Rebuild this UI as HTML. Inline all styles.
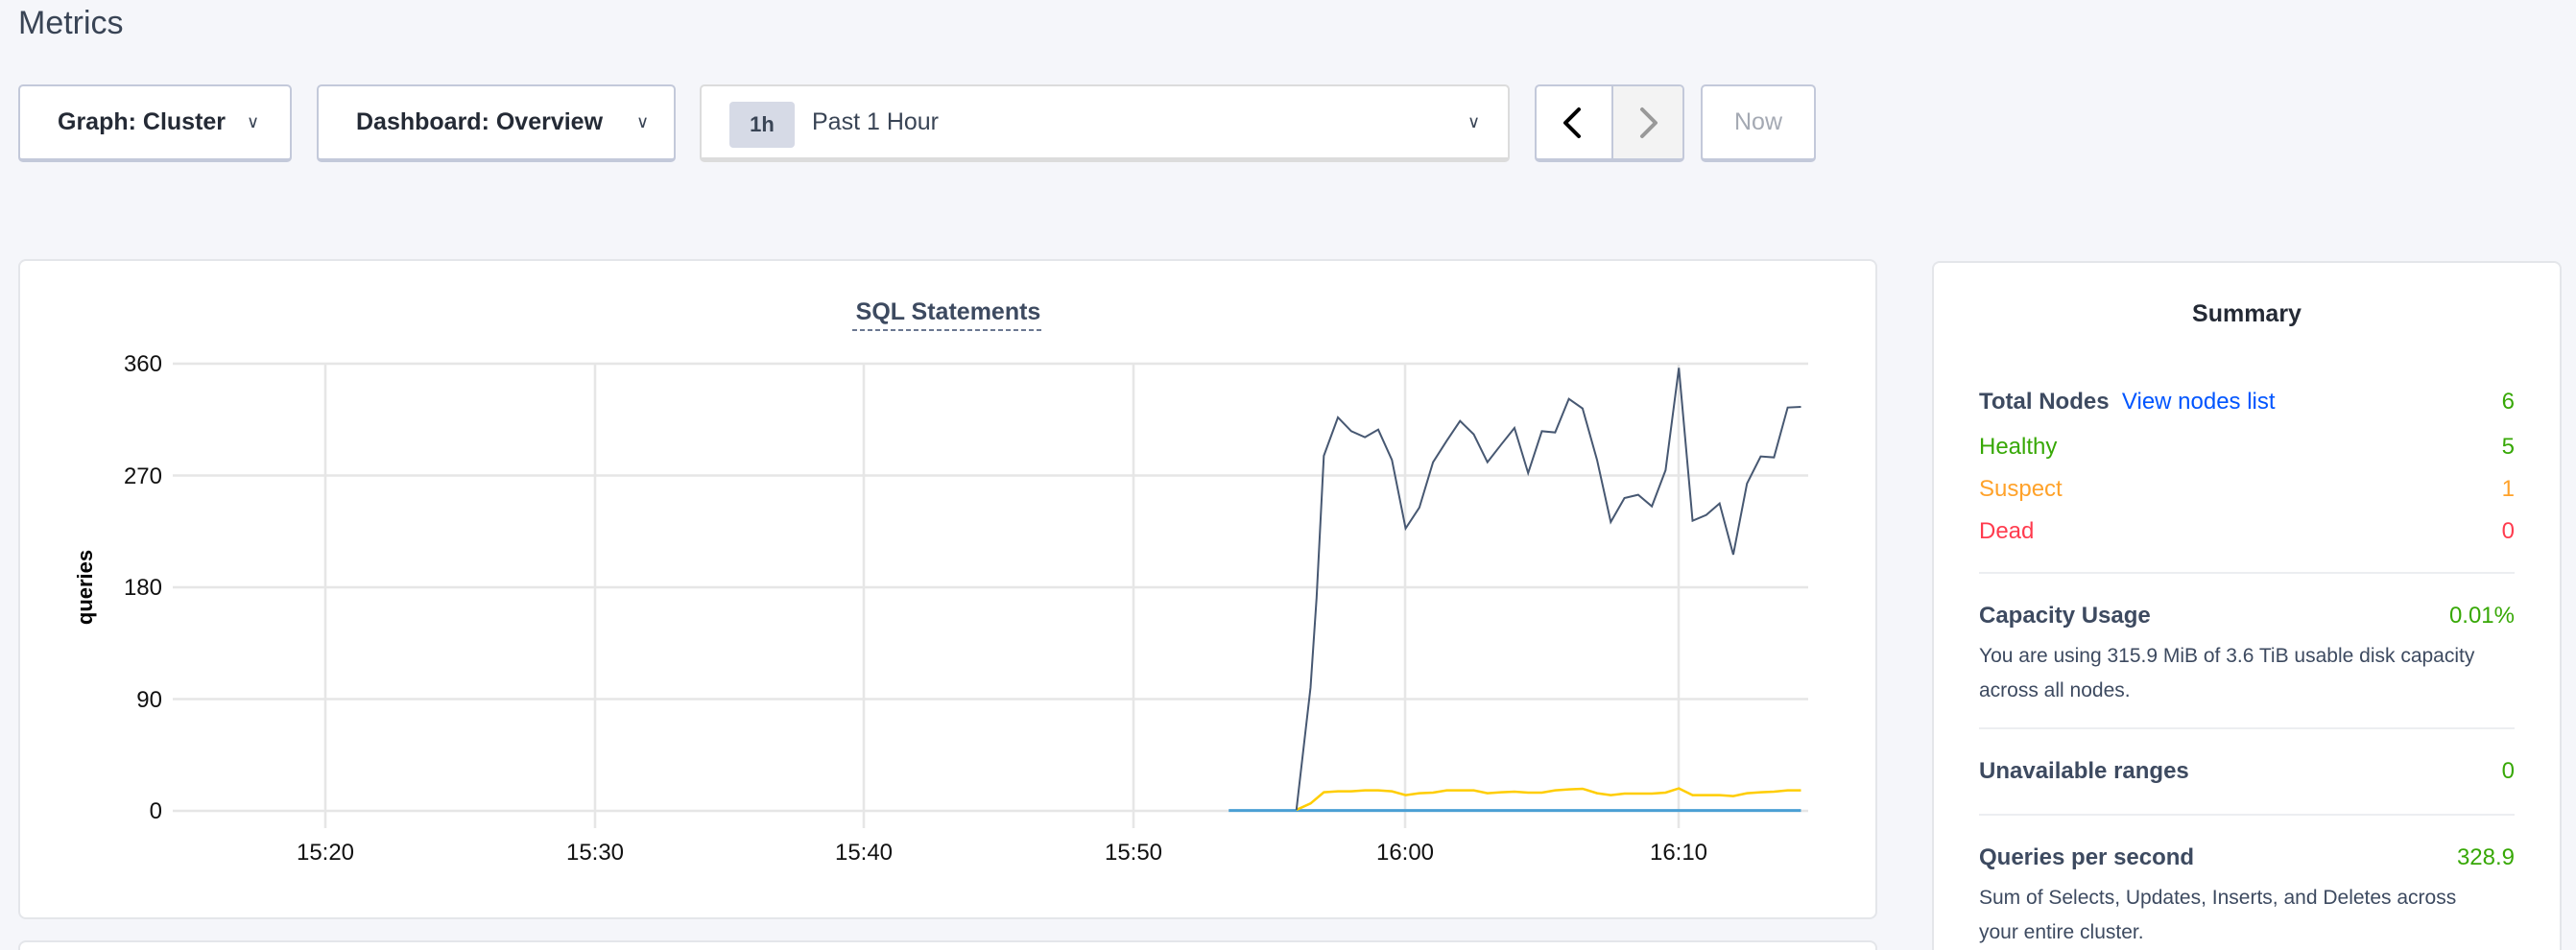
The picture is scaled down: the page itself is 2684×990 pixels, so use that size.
<!DOCTYPE html>
<html style="width:2684px;height:990px;overflow:hidden"><head><meta charset="utf-8"><style>
*{box-sizing:border-box;margin:0;padding:0}
body{width:2684px;height:990px;background:#f5f6fa;font-family:"Liberation Sans",sans-serif;position:relative;overflow:hidden;color:#394455}
.a{position:absolute}
.btn{position:absolute;top:88px;height:81px;background:#fff;border:2px solid #c3c9da;border-bottom-width:4px;border-radius:5px;font-size:25px;font-weight:bold;color:#242a35;display:flex;align-items:center}
.chev{position:absolute;font-size:18px;color:#394455;font-weight:normal}
.card{position:absolute;background:#fff;border:2px solid #e4e6ea;border-radius:8px}
.row{position:absolute;left:2062px;width:558px;font-size:24px;display:flex;justify-content:space-between}
.b{font-weight:bold;color:#3d4a60}
.desc{position:absolute;left:2062px;font-size:21px;line-height:36px;color:#3d4a60}
.hr{position:absolute;left:2062px;width:558px;height:2px;background:#eceef1}
</style></head><body>
<div class="a" style="left:19px;top:5px;font-size:34px;color:#394455">Metrics</div>

<div class="btn" style="left:19px;width:285px"><span style="margin-left:39px">Graph: Cluster</span><span class="chev" style="left:236px">&#8744;</span></div>
<div class="btn" style="left:330px;width:374px"><span style="margin-left:39px">Dashboard: Overview</span><span class="chev" style="left:331px">&#8744;</span></div>
<div class="btn" style="left:729px;width:844px;border-color:#dcdcdc;border-bottom-width:5px;font-weight:normal">
 <div class="a" style="left:29px;top:16px;width:68px;height:48px;background:#d6dae6;border-radius:4px;font-size:22px;font-weight:bold;display:flex;align-items:center;justify-content:center;color:#394455">1h</div>
 <span class="a" style="left:115px;top:23px;color:#394455">Past 1 Hour</span><span class="chev" style="left:798px">&#8744;</span></div>
<div class="btn" style="left:1599px;width:156px;overflow:hidden">
 <div class="a" style="left:78px;top:0;width:78px;height:100%;background:#f3f3f3;border-left:2px solid #c3c9da"></div>
 <svg class="a" style="left:0;top:0" width="156" height="76">
  <polyline points="44,24 30,38 44,52" fill="none" stroke="#000" stroke-width="4" stroke-linecap="round" stroke-linejoin="round"/>
  <polyline points="110,24 124,38 110,52" fill="none" stroke="#999" stroke-width="4" stroke-linecap="round" stroke-linejoin="round"/>
 </svg></div>
<div class="btn" style="left:1772px;width:120px;justify-content:center;color:#a4a9b3;font-weight:normal">Now</div>

<div class="card" style="left:19px;top:270px;width:1937px;height:688px"></div>
<div class="card" style="left:19px;top:980px;width:1937px;height:10px;border-bottom:none;border-radius:8px 8px 0 0"></div>

<svg class="a" style="left:0;top:0" width="2684" height="990">
 <text x="988" y="333" text-anchor="middle" font-size="25" font-weight="bold" fill="#3d4a60" font-family="Liberation Sans">SQL Statements</text>
 <line x1="888" y1="344" x2="1088" y2="344" stroke="#6b7891" stroke-width="2" stroke-dasharray="5,3"/>
 <g stroke="#e6e6e6" stroke-width="2.5">
  <line x1="180" y1="379" x2="1884" y2="379"/><line x1="180" y1="495.5" x2="1884" y2="495.5"/>
  <line x1="180" y1="612" x2="1884" y2="612"/><line x1="180" y1="728.5" x2="1884" y2="728.5"/>
  <line x1="180" y1="845" x2="1884" y2="845"/>
  <line x1="339" y1="379" x2="339" y2="863"/><line x1="620" y1="379" x2="620" y2="863"/>
  <line x1="900" y1="379" x2="900" y2="863"/><line x1="1181" y1="379" x2="1181" y2="863"/>
  <line x1="1464" y1="379" x2="1464" y2="863"/><line x1="1749" y1="379" x2="1749" y2="863"/>
 </g>
 <g font-size="24" fill="#111" font-family="Liberation Sans" text-anchor="end">
  <text x="169" y="387">360</text><text x="169" y="504">270</text><text x="169" y="620">180</text><text x="169" y="737">90</text><text x="169" y="853">0</text>
 </g>
 <g font-size="24" fill="#111" font-family="Liberation Sans" text-anchor="middle">
  <text x="339" y="896">15:20</text><text x="620" y="896">15:30</text><text x="900" y="896">15:40</text><text x="1181" y="896">15:50</text><text x="1464" y="896">16:00</text><text x="1749" y="896">16:10</text>
 </g>
 <text transform="translate(96,612) rotate(-90)" text-anchor="middle" font-size="22" font-weight="bold" fill="#000" font-family="Liberation Sans">queries</text>
 <g transform="translate(1250,340) scale(0.4199,0.3333)" fill="none">
  <polyline vector-effect="non-scaling-stroke" stroke="#4a9fd4" stroke-width="3" points="72,1514 1492,1514"/>
  <polyline vector-effect="non-scaling-stroke" stroke="#ffcd02" stroke-width="2.5" points="240,1512 275,1492 308,1457 343,1454 376,1454 410,1451 443,1451 477,1454 511,1466 545,1460 579,1458 613,1451 646,1451 680,1451 714,1460 748,1457 781,1455 815,1458 849,1458 882,1451 916,1448 950,1446 986,1460 1020,1466 1054,1461 1088,1461 1122,1461 1156,1458 1189,1445 1223,1466 1257,1466 1290,1466 1324,1469 1358,1460 1392,1457 1425,1455 1459,1451 1492,1451"/>
  <polyline vector-effect="non-scaling-stroke" stroke="#475872" stroke-width="2" points="240,1512 275,1130 290,850 308,405 343,285 376,328 410,347 443,323 477,418 511,632 545,567 579,425 613,358 646,296 680,338 714,425 748,370 781,318 815,459 849,328 882,332 916,227 950,257 986,418 1020,612 1054,537 1088,527 1122,563 1156,450 1189,130 1223,608 1257,590 1290,554 1324,714 1358,492 1392,407 1425,410 1459,254 1492,252"/>
 </g>
</svg>

<div class="card" style="left:2013px;top:272px;width:656px;height:718px;border-bottom:none;border-radius:8px 8px 0 0"></div>
<div class="a" style="left:2013px;width:656px;top:313px;text-align:center;font-size:25px;font-weight:bold;color:#242a35">Summary</div>
<div class="row" style="top:405px"><span><span class="b">Total Nodes</span>&nbsp;&nbsp;<span style="color:#0055ff">View nodes list</span></span><span style="color:#37a806">6</span></div>
<div class="row" style="top:452px;color:#37a806"><span>Healthy</span><span>5</span></div>
<div class="row" style="top:496px;color:#ffa22a"><span>Suspect</span><span>1</span></div>
<div class="row" style="top:540px;color:#ff3b4e"><span>Dead</span><span>0</span></div>
<div class="hr" style="top:596px"></div>
<div class="row" style="top:628px"><span class="b">Capacity Usage</span><span style="color:#37a806">0.01%</span></div>
<div class="desc" style="top:666px">You are using 315.9 MiB of 3.6 TiB usable disk capacity<br>across all nodes.</div>
<div class="hr" style="top:758px"></div>
<div class="row" style="top:790px"><span class="b">Unavailable ranges</span><span style="color:#37a806">0</span></div>
<div class="hr" style="top:848px"></div>
<div class="row" style="top:880px"><span class="b">Queries per second</span><span style="color:#37a806">328.9</span></div>
<div class="desc" style="top:918px">Sum of Selects, Updates, Inserts, and Deletes across<br>your entire cluster.</div>
</body></html>
